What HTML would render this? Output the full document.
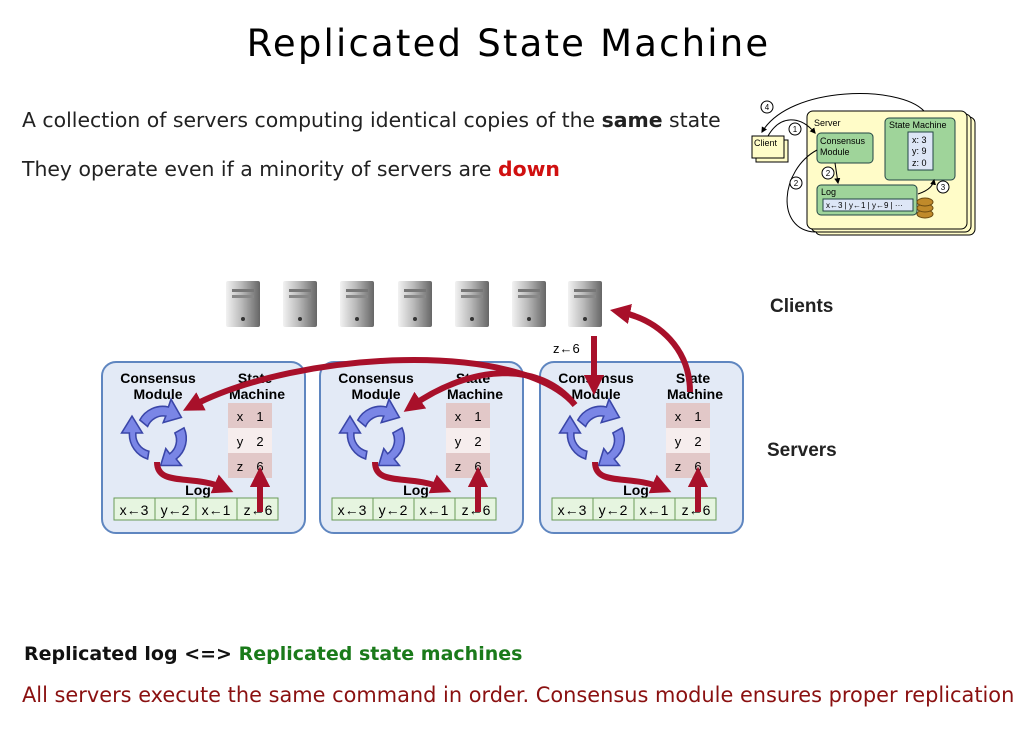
<!DOCTYPE html>
<html><head><meta charset="utf-8"><style>
body{margin:0;width:1024px;height:747px;background:#fff;overflow:hidden;position:relative;font-family:"Liberation Sans",sans-serif}
.t{position:absolute;font-family:"DejaVu Sans","Liberation Sans",sans-serif;white-space:nowrap}
</style></head><body>
<div class="t" style="left:0;width:1017px;top:22px;text-align:center;font-size:37px;color:#000;letter-spacing:2.2px">Replicated State Machine</div>
<div class="t" style="left:22px;top:108px;font-size:20.4px;color:#222">A collection of servers computing identical copies of the <b>same</b> state</div>
<div class="t" style="left:22px;top:157px;font-size:20.4px;color:#222">They operate even if a minority of servers are <b style="color:#d01010">down</b></div>
<div class="t" style="left:24px;top:643px;font-size:19px;color:#111"><b>Replicated log &lt;=&gt; <span style="color:#1a7a1a">Replicated state machines</span></b></div>
<div class="t" style="left:22px;top:683px;font-size:20.9px;color:#8a1010">All servers execute the same command in order. Consensus module ensures proper replication</div>
<svg width="1024" height="747" style="position:absolute;left:0;top:0" font-family="Liberation Sans, sans-serif">
<defs>
<marker id="ah" viewBox="0 0 10 10" refX="5" refY="5" markerWidth="3.4" markerHeight="3.4" orient="auto"><path d="M0,0L10,5L0,10z" fill="#a8102a"/></marker>
<marker id="sa" viewBox="0 0 10 10" refX="8" refY="5" markerWidth="6" markerHeight="6" orient="auto"><path d="M0,0L10,5L0,10z" fill="#000"/></marker>
<linearGradient id="sv" x1="0" x2="1"><stop offset="0" stop-color="#f2f2f2"/><stop offset=".45" stop-color="#bbb"/><stop offset="1" stop-color="#666"/></linearGradient>
<g id="srv"><rect x="0" y="0" width="34" height="46" rx="2" fill="url(#sv)"/><rect x="6" y="8" width="22" height="3" fill="#777"/><rect x="6" y="14" width="22" height="3" fill="#888"/><circle cx="17" cy="38" r="2" fill="#333"/></g>
<g id="panel">
<rect x="0" y="0" width="203" height="171" rx="14" fill="#e3eaf6" stroke="#5f86c0" stroke-width="2"/>
<text x="56" y="21" font-size="14" font-weight="bold" text-anchor="middle">Consensus</text>
<text x="56" y="37" font-size="14" font-weight="bold" text-anchor="middle">Module</text>
<text x="153" y="21" font-size="14" font-weight="bold" text-anchor="middle">State</text>
<text x="155" y="37" font-size="14" font-weight="bold" text-anchor="middle">Machine</text>
<rect x="126" y="41" width="44" height="25" fill="#e2c8c8"/><rect x="126" y="66" width="44" height="25" fill="#f6eded"/><rect x="126" y="91" width="44" height="25" fill="#e2c8c8"/>
<g font-size="13" text-anchor="middle"><text x="138" y="59">x</text><text x="158" y="59">1</text><text x="138" y="84">y</text><text x="158" y="84">2</text><text x="138" y="109">z</text><text x="158" y="109">6</text></g>
<g fill="#7a86e6" stroke="#3a46a8" stroke-width="1.2" transform="translate(56,71) scale(1.3) translate(-52,-72)"><path d="M38,62 a20,20 0 0 1 22,-10 l2,-6 8,14 -14,4 2,-5 a13,13 0 0 0 -14,8z"/><path d="M72,68 a20,20 0 0 1 -6,24 l4,5 -16,0 4,-13 3,4 a13,13 0 0 0 4,-16z"/><path d="M44,92 a20,20 0 0 1 -14,-20 l-6,0 8,-13 8,13 -5,0 a13,13 0 0 0 10,14z"/></g>
<text x="96" y="133" font-size="14" font-weight="bold" text-anchor="middle">Log</text>
<rect x="12" y="136" width="164" height="22" fill="#e6f5e0" stroke="#6a9a58"/>
<g stroke="#6a9a58"><line x1="53" y1="136" x2="53" y2="158"/><line x1="94" y1="136" x2="94" y2="158"/><line x1="135" y1="136" x2="135" y2="158"/></g>
<g font-size="14" text-anchor="middle"><text x="32" y="153">x←3</text><text x="73" y="153">y←2</text><text x="114" y="153">x←1</text><text x="156" y="153">z←6</text></g>
<path d="M55,100 C55,125 90,112 122,126" fill="none" stroke="#a8102a" stroke-width="6" marker-end="url(#ah)"/>
<path d="M158,150 L158,115" fill="none" stroke="#a8102a" stroke-width="6" marker-end="url(#ah)"/>
</g>
</defs>
<use href="#srv" x="226" y="281"/><use href="#srv" x="283" y="281"/><use href="#srv" x="340" y="281"/><use href="#srv" x="398" y="281"/><use href="#srv" x="455" y="281"/><use href="#srv" x="512" y="281"/><use href="#srv" x="568" y="281"/>
<text x="770" y="312" font-size="19" font-weight="bold" fill="#222">Clients</text>
<text x="767" y="456" font-size="19" font-weight="bold" fill="#222">Servers</text>
<text x="553" y="353" font-size="13">z←6</text>
<use href="#panel" x="102" y="362"/><use href="#panel" x="320" y="362"/><use href="#panel" x="540" y="362"/>
<path d="M594,336 L594,385" stroke="#a8102a" stroke-width="6" fill="none" marker-end="url(#ah)"/>
<path d="M690,392 C690,350 660,320 620,312" stroke="#a8102a" stroke-width="6" fill="none" marker-end="url(#ah)"/>
<path d="M575,405 C520,340 300,350 192,406" stroke="#a8102a" stroke-width="6" fill="none" marker-end="url(#ah)"/>
<path d="M575,405 C540,360 470,365 412,406" stroke="#a8102a" stroke-width="6" fill="none" marker-end="url(#ah)"/>
<g font-size="9">
<rect x="815" y="117" width="160" height="118" rx="6" fill="#fffcc8" stroke="#000"/>
<rect x="811" y="114" width="160" height="118" rx="6" fill="#fffcc8" stroke="#000"/>
<rect x="807" y="111" width="160" height="118" rx="6" fill="#fffcc8" stroke="#000"/>
<text x="814" y="126">Server</text>
<rect x="756" y="140" width="32" height="22" fill="#fffcc8" stroke="#000"/>
<rect x="752" y="136" width="32" height="22" fill="#fffcc8" stroke="#000"/>
<text x="754" y="146">Client</text>
<rect x="817" y="133" width="56" height="30" rx="4" fill="#9fd49a" stroke="#244"/>
<text x="820" y="144">Consensus</text><text x="820" y="155">Module</text>
<rect x="885" y="118" width="70" height="62" rx="4" fill="#9fd49a" stroke="#244"/>
<text x="889" y="128">State Machine</text>
<rect x="908" y="132" width="25" height="38" fill="#dde6f6" stroke="#244"/>
<text x="912" y="143">x: 3</text><text x="912" y="154">y: 9</text><text x="912" y="166">z: 0</text>
<rect x="817" y="185" width="100" height="30" rx="4" fill="#9fd49a" stroke="#244"/>
<text x="821" y="195">Log</text>
<rect x="823" y="199" width="90" height="12" fill="#dde6f6" stroke="#244"/>
<text x="826" y="208" font-size="8">x←3 | y←1 | y←9 | ···</text>
<ellipse cx="925" cy="214" rx="8" ry="4" fill="#c08a2a" stroke="#6a4a10"/><ellipse cx="925" cy="208" rx="8" ry="4" fill="#c08a2a" stroke="#6a4a10"/><ellipse cx="925" cy="202" rx="8" ry="4" fill="#c08a2a" stroke="#6a4a10"/>
<g fill="none" stroke="#000"><path d="M924,111 C900,85 790,85 762,132" marker-end="url(#sa)"/><path d="M768,136 C780,115 800,115 815,133" marker-end="url(#sa)"/><path d="M835,163 L838,183" marker-end="url(#sa)"/><path d="M817,150 C780,170 775,230 815,232"/><path d="M918,194 C930,190 933,185 934,180" marker-end="url(#sa)"/></g>
<g fill="#fff" stroke="#000"><circle cx="767" cy="107" r="6"/><circle cx="795" cy="129" r="6"/><circle cx="828" cy="173" r="6"/><circle cx="796" cy="183" r="6"/><circle cx="943" cy="187" r="6"/></g>
<g font-size="8" text-anchor="middle"><text x="767" y="110">4</text><text x="795" y="132">1</text><text x="828" y="176">2</text><text x="796" y="186">2</text><text x="943" y="190">3</text></g>
</g>
</svg>
</body></html>
